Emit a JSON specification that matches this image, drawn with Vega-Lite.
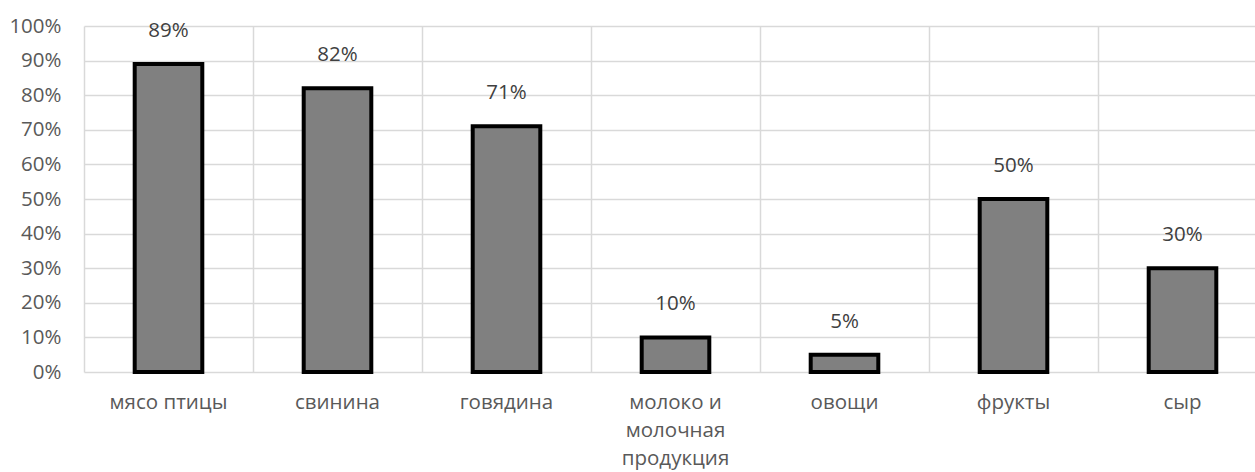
{
  "$schema": "https://vega.github.io/schema/vega-lite/v6.json",
  "width": 1183,
  "height": 346,
  "autosize": {"type": "none"},
  "padding": {"left": 84, "top": 26, "right": 0, "bottom": 100},
  "background": "white",
  "config": {
    "view": {"stroke": null},
    "font": "Open Sans"
  },
  "data": {
    "values": [
      {"category": "мясо птицы", "value": 0.89},
      {"category": "свинина", "value": 0.82},
      {"category": "говядина", "value": 0.71},
      {"category": "молоко и молочная продукция", "value": 0.10},
      {"category": "овощи", "value": 0.05},
      {"category": "фрукты", "value": 0.50},
      {"category": "сыр", "value": 0.30}
    ]
  },
  "encoding": {
    "x": {
      "field": "category",
      "type": "nominal",
      "sort": null,
      "scale": {"paddingInner": 0, "paddingOuter": 0},
      "axis": {
        "title": null,
        "labelAngle": 0,
        "labelFont": "Open Sans",
        "labelFontSize": 20.5,
        "labelColor": "#595959",
        "labelPadding": 20,
        "labelLineHeight": 28,
        "labelExpr": "datum.value == 'молоко и молочная продукция' ? ['молоко и', 'молочная', 'продукция'] : datum.value",
        "ticks": false,
        "domain": false,
        "grid": true,
        "gridColor": "#d9d9d9",
        "gridWidth": 1.5,
        "bandPosition": 0
      }
    },
    "y": {
      "field": "value",
      "type": "quantitative",
      "scale": {"domain": [0, 1]},
      "axis": {
        "title": null,
        "format": ".0%",
        "values": [0, 0.1, 0.2, 0.3, 0.4, 0.5, 0.6, 0.7, 0.8, 0.9, 1.0],
        "labelFont": "Open Sans",
        "labelFontSize": 20.5,
        "labelColor": "#595959",
        "labelPadding": 23,
        "ticks": false,
        "domain": false,
        "grid": true,
        "gridColor": "#d9d9d9",
        "gridWidth": 1.5
      }
    }
  },
  "layer": [
    {
      "mark": {
        "type": "bar",
        "width": {"band": 0.4},
        "color": "#808080",
        "stroke": "#000000",
        "strokeWidth": 4
      }
    },
    {
      "mark": {
        "type": "text",
        "dy": -33,
        "fontSize": 20.5,
        "font": "Open Sans",
        "color": "#404040",
        "baseline": "middle"
      },
      "encoding": {
        "text": {"field": "value", "type": "quantitative", "format": ".0%"}
      }
    }
  ]
}
